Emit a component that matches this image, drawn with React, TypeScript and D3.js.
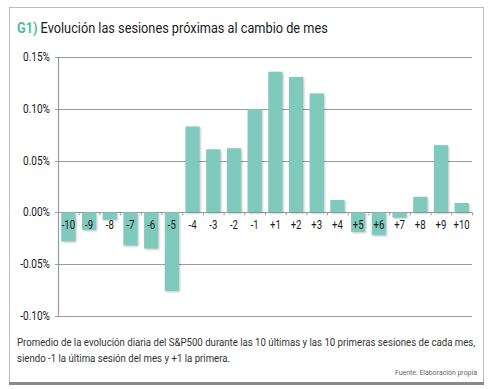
import { useEffect, useRef } from 'react';
import * as d3 from 'd3';

const sessions = ['-10', '-9', '-8', '-7', '-6', '-5', '-4', '-3', '-2', '-1',
  '+1', '+2', '+3', '+4', '+5', '+6', '+7', '+8', '+9', '+10'];
const avgReturn = [-0.028, -0.017, -0.007, -0.032, -0.035, -0.076, 0.083, 0.061, 0.062, 0.1,
  0.136, 0.131, 0.115, 0.012, -0.019, -0.022, -0.005, 0.015, 0.065, 0.009];
const yTicks = [0.15, 0.1, 0.05, 0, -0.05, -0.1];

const font = "Roboto, 'DejaVu Sans Condensed', sans-serif";
const colors = {
  bar: '#7fc9bd',
  teal: '#4fb8a8',
  grid: '#9a9a9a',
  text: '#1a1a1a',
  frame: '#bdbdbd',
};

export default function App() {
  const ref = useRef<SVGSVGElement>(null);

  useEffect(() => {
    const svg = d3.select(ref.current);
    svg.selectAll('*').remove();

    const left = 58;
    const right = 472;
    const top = 57.3;
    const bottom = 315.7;
    const narrow = 0.84;

    const x = d3.scaleBand().domain(sessions).range([left, right]).paddingInner(0.32).paddingOuter(0.16);
    const y = d3.scaleLinear().domain([-0.1, 0.15]).range([bottom, top]);

    // squeeze a text horizontally so it spans a given width from x0
    const fit = (t: any, x0: number, y0: number, width: number) => {
      const w = (t.node() as SVGTextElement).getComputedTextLength();
      t.attr('transform', `translate(${x0},${y0}) scale(${width / w},1)`);
      return width / w;
    };

    // frame
    svg.append('rect')
      .attr('x', 9.5).attr('y', 7.5).attr('width', 474).attr('height', 375)
      .attr('fill', 'white').attr('stroke', colors.frame);
    svg.append('line')
      .attr('x1', 9).attr('x2', 484).attr('y1', 383.5).attr('y2', 383.5)
      .attr('stroke', '#8a8a8a').attr('stroke-width', 3);

    // title
    const title = svg.append('text')
      .style('font-family', font).style('font-size', '15px');
    title.append('tspan').text('G1)').attr('fill', colors.teal).style('font-weight', 'bold');
    title.append('tspan').text(' Evolución las sesiones próximas al cambio de mes').attr('fill', colors.text);
    fit(title, 17, 33, 311);

    // grid
    svg.append('g')
      .selectAll('line')
      .data(yTicks)
      .enter()
      .append('line')
      .attr('x1', left - 3).attr('x2', right)
      .attr('y1', d => Math.round(y(d)) + 0.5).attr('y2', d => Math.round(y(d)) + 0.5)
      .attr('stroke', colors.grid).attr('stroke-width', 1.2);

    svg.append('line')
      .attr('x1', left + 0.5).attr('x2', left + 0.5)
      .attr('y1', top).attr('y2', bottom)
      .attr('stroke', colors.grid).attr('stroke-width', 1.2);

    svg.append('g')
      .selectAll('text')
      .data(yTicks)
      .enter()
      .append('text')
      .attr('transform', d => `translate(${left - 8},${y(d) + 4}) scale(${narrow},1)`)
      .attr('text-anchor', 'end')
      .style('font-family', font).style('font-size', '12px')
      .attr('fill', colors.text)
      .text(d => `${d.toFixed(2)}%`);

    // bars
    const step = x.step();
    svg.append('g')
      .selectAll('rect')
      .data(sessions)
      .enter()
      .append('rect')
      .attr('x', d => x(d))
      .attr('width', x.bandwidth())
      .attr('y', (d, i) => y(Math.max(0, avgReturn[i])))
      .attr('height', (d, i) => Math.abs(y(avgReturn[i]) - y(0)))
      .attr('fill', colors.bar)
      .style('filter', 'drop-shadow(1px 1px 1px rgba(0,0,0,0.25))');

    // category ticks
    svg.append('g')
      .selectAll('line')
      .data(d3.range(sessions.length + 1))
      .enter()
      .append('line')
      .attr('x1', i => left + i * step + 0.5).attr('x2', i => left + i * step + 0.5)
      .attr('y1', y(0)).attr('y2', y(0) + 3)
      .attr('stroke', colors.grid);

    svg.append('g')
      .selectAll('text')
      .data(sessions)
      .enter()
      .append('text')
      .attr('transform', d => `translate(${x(d) + x.bandwidth() / 2},${y(0) + 16.5}) scale(0.8,1)`)
      .attr('text-anchor', 'middle')
      .style('font-family', font).style('font-size', '12px')
      .attr('fill', colors.text)
      .text(d => d);

    // caption
    const line1 = svg.append('text')
      .style('font-family', font).style('font-size', '11px')
      .attr('fill', '#333')
      .text('Promedio de la evolución diaria del S&P500 durante las 10 últimas y las 10 primeras sesiones de cada mes,');
    const k = fit(line1, 17, 346, 459);
    svg.append('text')
      .attr('transform', `translate(17,362) scale(${k},1)`)
      .style('font-family', font).style('font-size', '11px')
      .attr('fill', '#333')
      .text('siendo -1 la última sesión del mes y +1 la primera.');

    const source = svg.append('text')
      .style('font-family', font).style('font-size', '7.5px')
      .attr('fill', '#666')
      .text('Fuente: Elaboración propia');
    fit(source, 395, 374.5, 82);
  }, []);

  return (
    <svg
      ref={ref}
      width={499}
      height={389}
      style={{ position: 'absolute', left: 0, top: 0, background: 'white' }}
    />
  );
}
